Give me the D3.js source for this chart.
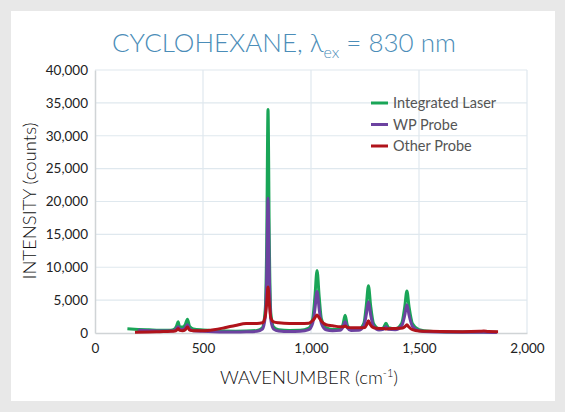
<!DOCTYPE html>
<html>
<head>
<meta charset="utf-8">
<script src="https://cdn.jsdelivr.net/npm/d3@7"></script>
<style>
  body { margin: 0; background: #e8e8e8; }
  svg { display: block; font-family: Lato, "Open Sans", sans-serif; }
</style>
</head>
<body>
<svg id="chart" width="565" height="412"></svg>
<script>
// series names and colours
var seriesNames = ["Integrated Laser", "WP Probe", "Other Probe"];
var seriesColors = ["#19a557", "#6c42a0", "#b0131b"];

// wavenumber (cm-1) / intensity (counts)
var laserX = [150, 200, 250, 300, 350, 370, 378, 385, 392, 405, 418, 428, 438, 455, 500, 550, 600, 650, 700, 750, 775, 788, 795, 801, 807, 814, 827, 850, 900, 950, 990, 1008, 1018, 1028, 1038, 1048, 1070, 1100, 1135, 1148, 1158, 1168, 1185, 1220, 1245, 1256, 1266, 1276, 1290, 1315, 1335, 1347, 1359, 1390, 1420, 1434, 1444, 1454, 1470, 1500, 1550, 1600, 1700, 1800, 1860];
var laserY = [650, 550, 480, 420, 430, 650, 1100, 1700, 900, 900, 1300, 2100, 1000, 600, 450, 350, 300, 280, 300, 400, 800, 3500, 14000, 34000, 14000, 3000, 900, 500, 380, 400, 750, 2200, 5500, 9500, 5500, 2200, 800, 550, 600, 1300, 2700, 1200, 550, 550, 1500, 4200, 7200, 4200, 1400, 650, 800, 1500, 800, 650, 1500, 4000, 6400, 4000, 1400, 500, 250, 200, 150, 150, 100];

var wpX = [200, 250, 300, 350, 370, 378, 385, 392, 405, 418, 428, 438, 455, 500, 550, 600, 650, 700, 750, 775, 788, 795, 801, 807, 814, 827, 850, 900, 950, 990, 1008, 1018, 1028, 1038, 1048, 1070, 1100, 1135, 1148, 1158, 1168, 1185, 1220, 1245, 1256, 1266, 1276, 1290, 1315, 1335, 1347, 1359, 1390, 1420, 1434, 1444, 1454, 1470, 1500, 1550, 1600, 1700, 1800, 1860];
var wpY = [400, 350, 300, 300, 450, 700, 950, 550, 550, 800, 1250, 600, 350, 250, 180, 150, 150, 180, 250, 600, 2400, 9000, 20500, 9000, 2000, 600, 300, 220, 250, 500, 1500, 3600, 6300, 3600, 1500, 500, 350, 400, 900, 1700, 800, 380, 400, 1100, 2800, 4750, 2800, 1000, 450, 550, 950, 550, 480, 1100, 2700, 4300, 2700, 1000, 350, 180, 150, 120, 120, 80];

var otherX = [185, 250, 300, 350, 370, 378, 385, 392, 405, 418, 428, 438, 455, 500, 550, 600, 650, 700, 750, 775, 788, 795, 801, 807, 814, 827, 850, 900, 950, 990, 1008, 1018, 1028, 1038, 1048, 1070, 1100, 1135, 1150, 1158, 1166, 1185, 1220, 1250, 1258, 1266, 1274, 1290, 1320, 1340, 1347, 1354, 1390, 1425, 1436, 1444, 1452, 1470, 1500, 1550, 1600, 1700, 1780, 1800, 1820, 1866];
var otherY = [100, 150, 200, 250, 300, 450, 700, 400, 350, 500, 900, 450, 350, 350, 500, 800, 1150, 1450, 1450, 1550, 2500, 4500, 7000, 4500, 2300, 1700, 1550, 1450, 1450, 1500, 1900, 2300, 2750, 2300, 1800, 1250, 1100, 950, 950, 1050, 900, 800, 780, 850, 1300, 1850, 1300, 800, 700, 700, 600, 650, 700, 750, 1000, 1250, 950, 500, 300, 250, 220, 200, 250, 300, 230, 200];

// axis ticks
var xTicks = [0, 500, 1000, 1500, 2000];
var yTicks = [0, 5000, 10000, 15000, 20000, 25000, 30000, 35000, 40000];

var svg = d3.select("#chart");

// white card
svg.append("rect")
    .attr("x", 11).attr("y", 11)
    .attr("width", 544).attr("height", 390)
    .attr("fill", "#ffffff");

var plotLeft = 95, plotRight = 527, plotTop = 70, plotBottom = 333;

var x = d3.scaleLinear().domain([0, 2000]).range([plotLeft, plotRight]);
var y = d3.scaleLinear().domain([0, 40000]).range([plotBottom, plotTop]);

// grid
svg.append("g").selectAll("line").data(yTicks.slice(1)).enter().append("line")
    .attr("x1", plotLeft).attr("x2", plotRight)
    .attr("y1", function(d){ return y(d); })
    .attr("y2", function(d){ return y(d); })
    .attr("stroke", "#dfe8ee").attr("stroke-width", 1.2);
svg.append("g").selectAll("line").data(xTicks.slice(1)).enter().append("line")
    .attr("y1", plotTop).attr("y2", plotBottom)
    .attr("x1", function(d){ return x(d); })
    .attr("x2", function(d){ return x(d); })
    .attr("stroke", "#dfe8ee").attr("stroke-width", 1.2);

// axes (light lines, no ticks)
var fmt = d3.format(",");
var xAxis = svg.append("g")
    .attr("transform", "translate(0," + plotBottom + ")")
    .call(d3.axisBottom(x).tickValues(xTicks).tickFormat(fmt).tickSize(0).tickPadding(10));
var yAxis = svg.append("g")
    .attr("transform", "translate(" + plotLeft + ",0)")
    .call(d3.axisLeft(y).tickValues(yTicks).tickFormat(fmt).tickSize(0).tickPadding(7));
[xAxis, yAxis].forEach(function(a){
    a.select(".domain").attr("stroke", "#d0d4d6").attr("stroke-width", 1.5);
    a.selectAll("text").attr("font-family", "Lato, sans-serif")
        .attr("font-size", 13.5).attr("fill", "#222");
});

// lines
var line = d3.line()
    .x(function(d){ return x(d[0]); })
    .y(function(d){ return y(d[1]); })
    .curve(d3.curveMonotoneX);

var series = [
    d3.zip(laserX, laserY),
    d3.zip(wpX, wpY),
    d3.zip(otherX, otherY)
];
svg.append("g").selectAll("path").data(series).enter().append("path")
    .attr("d", line)
    .attr("fill", "none")
    .attr("stroke", function(d, i){ return seriesColors[i]; })
    .attr("stroke-width", 3)
    .attr("stroke-linejoin", "round");

// legend
var legend = svg.append("g").selectAll("g").data(seriesNames).enter().append("g")
    .attr("transform", function(d, i){ return "translate(371," + (103 + i * 21.5) + ")"; });
legend.append("line")
    .attr("x1", 0).attr("x2", 17)
    .attr("stroke", function(d, i){ return seriesColors[i]; })
    .attr("stroke-width", 3);
legend.append("text")
    .attr("x", 22).attr("dy", "0.35em")
    .attr("font-size", 14.5).attr("fill", "#555")
    .text(function(d){ return d; });

// title
var title = svg.append("text")
    .attr("x", 284).attr("y", 52)
    .attr("text-anchor", "middle")
    .attr("font-size", 26).attr("font-weight", 300).attr("fill", "#4b8db8");
title.append("tspan").text("CYCLOHEXANE, λ");
title.append("tspan").attr("font-size", 16).attr("dy", 6).text("ex");
title.append("tspan").attr("dy", -6).text(" = 830 nm");

// axis titles
var xt = svg.append("text")
    .attr("x", 309).attr("y", 384)
    .attr("text-anchor", "middle")
    .attr("font-size", 18.5).attr("font-weight", 300).attr("fill", "#111");
xt.append("tspan").text("WAVENUMBER (cm");
xt.append("tspan").attr("font-size", 11).attr("dy", -7).text("-1");
xt.append("tspan").attr("dy", 7).text(")");

svg.append("text")
    .attr("transform", "translate(36,201) rotate(-90)")
    .attr("text-anchor", "middle")
    .attr("font-size", 18.5).attr("font-weight", 300).attr("fill", "#111")
    .text("INTENSITY (counts)");
</script>
</body>
</html>
